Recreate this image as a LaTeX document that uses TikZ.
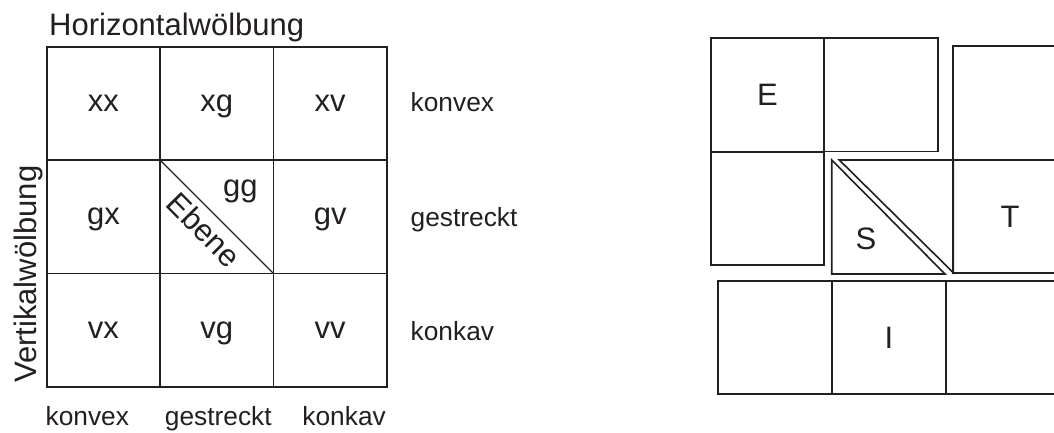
\documentclass[tikz,border=0pt]{standalone}
\usepackage{fontspec}
\setmainfont{Liberation Sans}
\definecolor{ink}{HTML}{231F20}
\begin{document}
\begin{tikzpicture}[x=1pt,y=-1pt,
  cell/.style={draw=ink, line width=1.8pt, minimum width=113.4pt, minimum height=113.4pt,
    inner sep=0pt, outer sep=0pt, text=ink, font=\fontsize{31}{31}\selectfont,
    text height=16pt, text depth=0pt},
  piece/.style={draw=ink, line width=1.8pt, minimum width=113.6pt, minimum height=113.6pt,
    inner sep=0pt, outer sep=0pt, text=ink, font=\fontsize{31}{31}\selectfont,
    text height=22.2pt, text depth=0pt},
  big/.style={inner sep=0pt, text=ink, font=\fontsize{31}{31}\selectfont},
  side/.style={inner sep=0pt, text=ink, font=\fontsize{26.3}{26.3}\selectfont},
  thin/.style={draw=ink, line width=1.3pt}]
\useasboundingbox (0,0) rectangle (1054,433);
\clip (0,0) rectangle (1054,433);
% ---- left grid ----
\node[cell] (xx) at (103.4,103.4) {xx};
\node[cell] (xg) at (216.8,103.4) {xg};
\node[cell] (xv) at (330.2,103.4) {xv};
\node[cell] (gx) at (103.4,216.8) {gx};
\node[cell] (gg) at (216.8,216.8) {};
\node[cell] (gv) at (330.2,216.8) {gv};
\node[cell] (vx) at (103.4,330.2) {vx};
\node[cell] (vg) at (216.8,330.2) {vg};
\node[cell] (vv) at (330.2,330.2) {vv};
\draw[thin, line width=1.2pt] (gg.north west) -- (gg.south east);
\node[big, anchor=base] (gglabel) at (240.3,196.7) {gg};
\node[big, rotate=-45.5] (ebene) at (203.9,229.7) {Ebene};
% titles
\node[big, anchor=base] (htitle) at (176.7,36) {Horizontalwölbung};
\node[big, rotate=90, anchor=base] (vtitle) at (36.7,274.2) {Vertikalwölbung};
% right labels
\node[side, anchor=base west] (rkonvex) at (410.5,111.7) {konvex};
\node[side, anchor=base west] (rgestreckt) at (410.5,226.7) {gestreckt};
\node[side, anchor=base west] (rkonkav) at (410.5,340) {konkav};
% bottom labels
\node[side, anchor=base west] (bkonvex) at (45.5,425) {konvex};
\node[side, anchor=base] (bgestreckt) at (218.3,425) {gestreckt};
\node[side, anchor=base east] (bkonkav) at (386,425) {konkav};
% ---- right figure ----
\node[piece] (E) at (767.5,94.7) {E};
\node[piece] (eb1) at (881,94.7) {};
\node[piece, minimum height=113.3pt] (eb2) at (767.5,208.35) {};
\node[piece, minimum height=114pt] (tr) at (1010,103) {};
\node[piece, minimum height=112.7pt] (T) at (1010,216.35) {T};
\node[piece, minimum width=114pt, minimum height=113.3pt] (b1) at (775.3,337.65) {};
\node[piece, minimum width=113.4pt, minimum height=113.3pt] (I) at (889,337.65) {I};
\node[piece, minimum width=113.4pt, minimum height=113.3pt] (b3) at (1002.4,337.65) {};
% S pieces
\coordinate (sa) at (831.7,160);
\coordinate (sb) at (831.7,274);
\coordinate (sc) at (945,274);
\coordinate (ua) at (839.3,160);
\coordinate (ub) at (953.3,160);
\coordinate (uc) at (953.3,272.7);
\draw[draw=ink, line width=1.6pt, line join=miter] (sa) -- (sb) -- (sc) -- cycle;
\draw[draw=ink, line width=1.6pt, line join=miter] (ua) -- (ub) -- (uc) -- cycle;
\node[big, text height=22.2pt, text depth=0pt] (S) at (866,238.3) {S};
\end{tikzpicture}
\end{document}
